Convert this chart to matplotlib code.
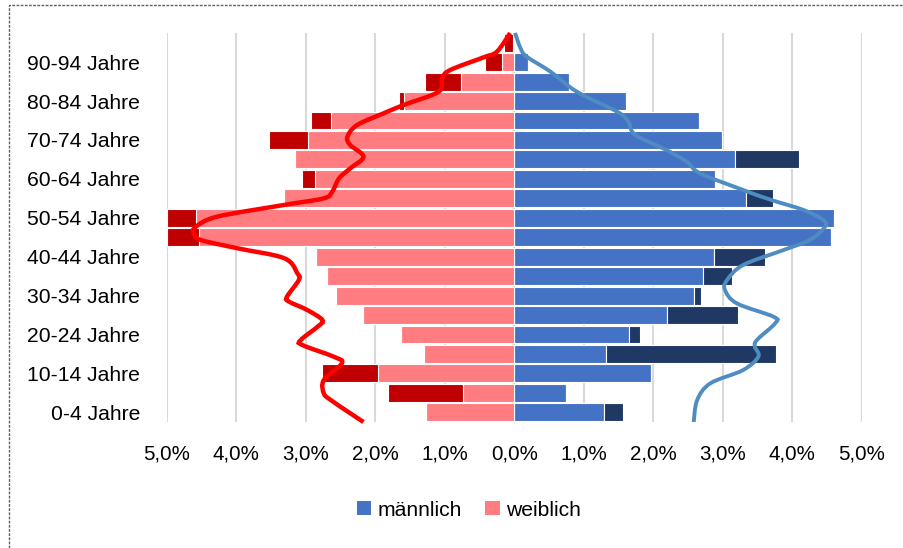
import matplotlib
matplotlib.use("Agg")
import matplotlib.pyplot as plt
from matplotlib.patches import Patch, PathPatch
from matplotlib.path import Path
from matplotlib.lines import Line2D

plt.rcParams['font.family'] = ['Liberation Sans', 'DejaVu Sans']

# Altersgruppen (unten nach oben)
ages = ['0-4 Jahre', '5-9 Jahre', '10-14 Jahre', '15-19 Jahre', '20-24 Jahre',
        '25-29 Jahre', '30-34 Jahre', '35-39 Jahre', '40-44 Jahre', '45-49 Jahre',
        '50-54 Jahre', '55-59 Jahre', '60-64 Jahre', '65-69 Jahre', '70-74 Jahre',
        '75-79 Jahre', '80-84 Jahre', '85-89 Jahre', '90-94 Jahre', '95+ Jahre']

# Anteile in %
male_base = [1.29, 0.75, 1.97, 1.32, 1.65, 2.19, 2.58, 2.72, 2.87, 4.55,
             4.60, 3.33, 2.88, 3.18, 2.98, 2.65, 1.60, 0.78, 0.19, 0.0]
male_total = [1.56, 0.75, 1.97, 3.77, 1.81, 3.22, 2.68, 3.13, 3.60, 4.55,
              4.60, 3.72, 2.88, 4.09, 2.98, 2.65, 1.60, 0.78, 0.19, 0.0]
female_base = [1.27, 0.74, 1.96, 1.30, 1.63, 2.17, 2.56, 2.70, 2.85, 4.54,
               4.58, 3.31, 2.87, 3.16, 2.97, 2.64, 1.59, 0.77, 0.18, 0.02]
female_total = [1.27, 1.82, 2.77, 1.30, 1.63, 2.17, 2.56, 2.70, 2.85, 5.0,
                5.0, 3.31, 3.06, 3.16, 3.53, 2.92, 1.66, 1.28, 0.42, 0.15]

# Vergleichskurven (Position in Altersgruppen, Anteil in %)
female_curve_r = [0.0, 0.45, 1.13, 1.47, 2.16, 3.02, 3.36, 3.96, 4.22, 4.9, 5.24, 5.76,
                  6.19, 6.44, 7.3, 7.64, 8.42, 8.93, 9.36, 9.7, 10.04, 10.56, 11.16,
                  11.5, 11.84, 12.53, 13.04, 13.64, 14.24, 14.67, 15.27, 15.87, 16.3,
                  16.98, 17.67, 18.1, 18.75, 19.04, 20.0]
female_curve_v = [2.17, 2.36, 2.64, 2.74, 2.74, 2.48, 2.60, 3.05, 3.07, 2.83, 2.76, 2.98,
                  3.24, 3.27, 3.10, 3.12, 3.31, 3.98, 4.51, 4.61, 4.58, 4.27, 3.31,
                  2.74, 2.62, 2.52, 2.36, 2.17, 2.36, 2.40, 2.26, 1.88, 1.59,
                  1.09, 1.04, 0.92, 0.44, 0.25, 0.06]
male_curve_r = [0.0, 1.13, 1.99, 2.67, 3.36, 3.87, 4.22, 5.07, 5.41, 6.1, 6.79, 7.3,
                8.07, 8.84, 9.36, 10.04, 10.39, 10.9, 11.41, 11.93, 12.79, 13.38,
                13.98, 14.76, 15.44, 15.95, 16.98, 18.01, 18.78, 19.21, 20.0]
male_curve_v = [2.58, 2.63, 2.82, 3.29, 3.51, 3.46, 3.49, 3.75, 3.73, 3.20, 3.03, 3.06,
                3.29, 3.87, 4.25, 4.47, 4.44, 4.16, 3.70, 3.29, 2.67, 2.48,
                2.19, 1.74, 1.64, 1.48, 0.90, 0.52, 0.18, 0.09, 0.01]

ticks = [-5, -4, -3, -2, -1, 0, 1, 2, 3, 4, 5]


def smooth_path(xs, ys):
    # Catmull-Rom als Bezier-Kurven, wie die geglaettete Linie in Excel
    pts = list(zip(xs, ys))
    verts = [pts[0]]
    codes = [Path.MOVETO]
    for i in range(len(pts) - 1):
        p0 = pts[i - 1] if i > 0 else pts[i]
        p1 = pts[i]
        p2 = pts[i + 1]
        p3 = pts[i + 2] if i + 2 < len(pts) else pts[i + 1]
        c1 = (p1[0] + (p2[0] - p0[0]) / 6, p1[1] + (p2[1] - p0[1]) / 6)
        c2 = (p2[0] - (p3[0] - p1[0]) / 6, p2[1] - (p3[1] - p1[1]) / 6)
        verts += [c1, c2, p2]
        codes += [Path.CURVE4] * 3
    return Path(verts, codes)


fig = plt.figure(figsize=(9.04, 5.48), dpi=100)
ax = fig.add_axes([0.1844, 0.2299, 0.9535 - 0.1844, 0.9398 - 0.2299])

y = [i + 0.5 for i in range(len(ages))]
male_extra = [t - b for t, b in zip(male_total, male_base)]
female_extra = [t - b for t, b in zip(female_total, female_base)]

h = 0.92
ax.barh(y, male_base, height=h, color='#4472C4', edgecolor='white', linewidth=0.8, zorder=2)
ax.barh(y, male_extra, left=male_base, height=h, color='#203864', edgecolor='white', linewidth=0.8, zorder=2)
ax.barh(y, [-v for v in female_base], height=h, color='#FF7C80', edgecolor='white', linewidth=0.8, zorder=2)
ax.barh(y, [-v for v in female_extra], left=[-v for v in female_base], height=h,
        color='#C00000', edgecolor='white', linewidth=0.8, zorder=2)

ax.add_patch(PathPatch(smooth_path([-v for v in female_curve_v], female_curve_r),
                       fill=False, edgecolor='#FF0000', linewidth=3.2, zorder=4,
                       capstyle='butt', clip_on=False))
ax.add_patch(PathPatch(smooth_path(male_curve_v, male_curve_r),
                       fill=False, edgecolor='#4F8CC2', linewidth=2.8, zorder=4,
                       capstyle='butt', clip_on=False))

ax.set_xlim(-5, 5)
ax.set_ylim(0, 20)
ax.set_xticks(ticks)
ax.set_xticklabels([('%.1f%%' % abs(t)).replace('.', ',') for t in ticks], fontsize=14.8)
ax.set_yticks([y[i] for i in range(0, len(ages), 2)])
ax.set_yticklabels([ages[i] for i in range(0, len(ages), 2)], fontsize=15.2)
ax.tick_params(axis='x', length=0, pad=16)
ax.tick_params(axis='y', length=0, pad=19)
ax.grid(axis='x', color='#D9D9D9', linewidth=1.5, zorder=0)
ax.set_axisbelow(True)
for s in ax.spines.values():
    s.set_visible(False)

handles = [Patch(facecolor='#4472C4', label='männlich'),
           Patch(facecolor='#FF7C80', label='weiblich')]
fig.legend(handles=handles, loc='center', bbox_to_anchor=(469 / 904, 1 - 510 / 548),
           ncol=2, frameon=False, fontsize=15.2, handlelength=0.67, handleheight=0.67,
           handletextpad=0.3, columnspacing=1.1)

# gestrichelter Rahmen oben und links
fig.add_artist(Line2D([9 / 904, 9 / 904, 1], [0, 1 - 4.7 / 548, 1 - 4.7 / 548],
                      transform=fig.transFigure, color='#606060', linewidth=1,
                      linestyle=(0, (2, 1))))

fig.savefig('out.png', dpi=100)
